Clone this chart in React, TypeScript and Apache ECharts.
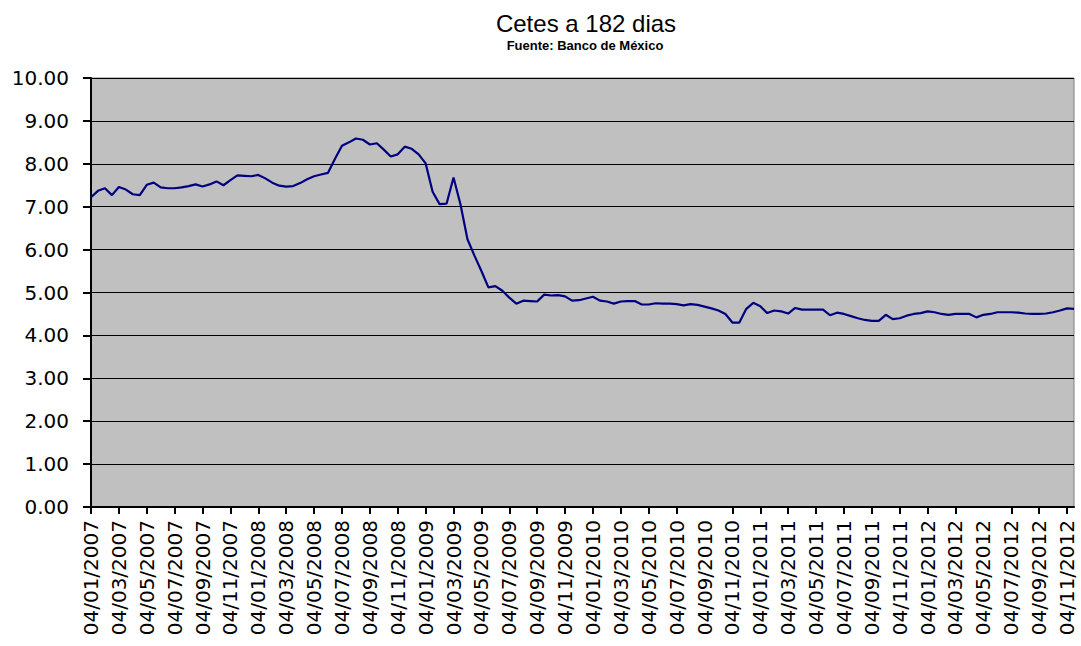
import React, { useEffect, useRef } from "react";
import * as echarts from "echarts";

const TITLE = "Cetes a 182 dias";
const SUBTITLE = "Fuente: Banco de México";

// Month labels (every two months) shown on the category axis
const labelMonths = ["01", "03", "05", "07", "09", "11"];
const years = ["2007", "2008", "2009", "2010", "2011", "2012"];
// Label slots without a tick mark in the reference
const labelsWithoutTick = ["04/09/2010", "04/05/2012"];

// Rate (%) read every ~half month, 04/01/2007 .. mid-Nov 2012
const rates = [
  7.22, 7.37, 7.43, 7.27, 7.46, 7.40, 7.29, 7.27, 7.51, 7.56,
  7.45, 7.43, 7.43, 7.45, 7.48, 7.52, 7.47, 7.52, 7.59, 7.50,
  7.62, 7.73, 7.72, 7.71, 7.74, 7.66, 7.56, 7.49, 7.47, 7.48,
  7.55, 7.64, 7.71, 7.75, 7.79, 8.12, 8.42, 8.50, 8.59, 8.56,
  8.45, 8.48, 8.33, 8.17, 8.22, 8.40, 8.35, 8.22, 8.01, 7.35,
  7.06, 7.07, 7.68, 7.05, 6.24, 5.86, 5.50, 5.12, 5.15, 5.04,
  4.88, 4.74, 4.81, 4.80, 4.79, 4.95, 4.93, 4.94, 4.91, 4.81,
  4.82, 4.86, 4.90, 4.81, 4.79, 4.74, 4.79, 4.80, 4.80, 4.72,
  4.72, 4.75, 4.74, 4.74, 4.73, 4.70, 4.73, 4.71, 4.67, 4.63,
  4.58, 4.50, 4.30, 4.30, 4.62, 4.76, 4.68, 4.52, 4.58, 4.56,
  4.51, 4.64, 4.60, 4.60, 4.60, 4.60, 4.47, 4.53, 4.50, 4.45,
  4.40, 4.36, 4.34, 4.34, 4.48, 4.38, 4.40, 4.46, 4.50, 4.52,
  4.56, 4.54, 4.50, 4.48, 4.50, 4.50, 4.50, 4.42, 4.48, 4.50,
  4.54, 4.54, 4.54, 4.53, 4.51, 4.50, 4.50, 4.51, 4.54, 4.58,
  4.63, 4.62,
];

const yTicks = [0, 1, 2, 3, 4, 5, 6, 7, 8, 9, 10];

// Build category names: half-month steps between bimonthly label dates
const monthNames = ["01", "02", "03", "04", "05", "06", "07", "08", "09", "10", "11", "12"];
const categories: string[] = [];
for (let i = 0; i < rates.length; i++) {
  const m = Math.floor(i / 2);
  const year = 2007 + Math.floor(m / 12);
  const month = monthNames[m % 12];
  const day = i % 2 === 0 ? "04" : "19";
  categories.push(`${day}/${month}/${year}`);
}
const labelSet = new Set<string>();
years.forEach((y) => labelMonths.forEach((m) => labelSet.add(`04/${m}/${y}`)));

export default function App() {
  const ref = useRef<HTMLDivElement>(null);
  useEffect(() => {
    if (!ref.current) return;
    const chart = echarts.init(ref.current, undefined, { renderer: "svg" });
    chart.setOption({
      animation: false,
      backgroundColor: "#ffffff",
      title: [
        {
          text: TITLE,
          left: 581,
          top: 6,
          textAlign: "center",
          textStyle: { fontFamily: "Liberation Sans", fontSize: 24, fontWeight: "normal", color: "#000" },
        },
        {
          text: SUBTITLE,
          left: 580,
          top: 34,
          textAlign: "center",
          textStyle: { fontFamily: "Liberation Sans", fontSize: 13, fontWeight: "bold", color: "#000" },
        },
      ],
      grid: {
        left: 91,
        right: 7,
        top: 78,
        bottom: 139,
        show: true,
        backgroundColor: "#C0C0C0",
        borderColor: "#808080",
        borderWidth: 1,
      },
      xAxis: {
        type: "category",
        data: categories,
        boundaryGap: false,
        axisLine: { lineStyle: { color: "#000", width: 2 } },
        axisTick: {
          length: 7,
          lineStyle: { color: "#000", width: 2 },
          interval: (idx: number, val: string) => labelSet.has(val) && !labelsWithoutTick.includes(val),
        },
        axisLabel: {
          rotate: 90,
          margin: 13,
          fontFamily: "DejaVu Sans",
          fontSize: 20,
          color: "#000",
          interval: (idx: number, val: string) => labelSet.has(val),
        },
        splitLine: { show: false },
      },
      yAxis: {
        type: "value",
        min: yTicks[0],
        max: yTicks[yTicks.length - 1],
        interval: 1,
        axisLine: { show: true, lineStyle: { color: "#000", width: 2 } },
        axisTick: { show: true, length: 8, lineStyle: { color: "#000", width: 2 } },
        axisLabel: {
          margin: 22,
          fontFamily: "DejaVu Sans",
          fontSize: 20,
          color: "#000",
          formatter: (v: number) => v.toFixed(2),
        },
        splitLine: { show: true, lineStyle: { color: "#000", width: 1 } },
      },
      series: [
        {
          type: "line",
          data: rates,
          showSymbol: false,
          symbol: "none",
          lineStyle: { color: "#000080", width: 2.2 },
        },
      ],
    });
    return () => chart.dispose();
  }, []);
  return (
    <div
      ref={ref}
      style={{ position: "fixed", left: 0, top: 0, width: 1081, height: 646 }}
    />
  );
}
